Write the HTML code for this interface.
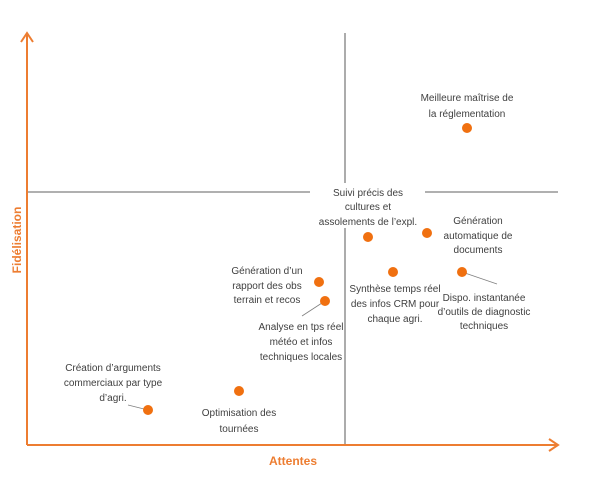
<!DOCTYPE html>
<html><head><meta charset="utf-8"><style>
body{margin:0;background:#fff;}
svg text{font-family:"Liberation Sans",sans-serif;font-size:10px;fill:#404040;text-anchor:middle;}
</style></head><body>
<svg width="608" height="475" viewBox="0 0 608 475">
<line x1="345" y1="33" x2="345" y2="445" stroke="#808080" stroke-width="1.3"/>
<line x1="27" y1="192" x2="310" y2="192" stroke="#808080" stroke-width="1.3"/>
<line x1="425" y1="192" x2="558" y2="192" stroke="#808080" stroke-width="1.3"/>
<rect x="333" y="183" width="24" height="45" fill="#fff"/>
<line x1="27" y1="445" x2="27" y2="35" stroke="#ED7D31" stroke-width="2"/>
<polyline points="21,42 27,33 33,42" fill="none" stroke="#ED7D31" stroke-width="2"/>
<line x1="27" y1="445" x2="556" y2="445" stroke="#ED7D31" stroke-width="2"/>
<polyline points="549,439 558,445 549,451" fill="none" stroke="#ED7D31" stroke-width="2"/>
<g stroke="#808080" stroke-width="0.8">
<line x1="462" y1="272" x2="497" y2="284"/>
<line x1="325" y1="301" x2="302" y2="316"/>
<line x1="148" y1="410" x2="128" y2="405"/>
</g>
<g fill="#F07010">
<circle cx="467" cy="128" r="5"/><circle cx="368" cy="237" r="5"/><circle cx="427" cy="233" r="5"/>
<circle cx="319" cy="282" r="5"/><circle cx="325" cy="301" r="5"/><circle cx="393" cy="272" r="5"/>
<circle cx="462" cy="272" r="5"/><circle cx="239" cy="391" r="5"/><circle cx="148" cy="410" r="5"/>
</g>
<text x="467" y="101">Meilleure maîtrise de</text><text x="467" y="117">la réglementation</text>
<text x="368" y="196">Suivi précis des</text><text x="368" y="210">cultures et</text><text x="368" y="225">assolements de l’expl.</text>
<text x="478" y="224">Génération</text><text x="478" y="239">automatique de</text><text x="478" y="253">documents</text>
<text x="267" y="274">Génération d’un</text><text x="267" y="289">rapport des obs</text><text x="267" y="303">terrain et recos</text>
<text x="395" y="292">Synthèse temps réel</text><text x="395" y="307">des infos CRM pour</text><text x="395" y="322">chaque agri.</text>
<text x="484" y="301">Dispo. instantanée</text><text x="484" y="315">d’outils de diagnostic</text><text x="484" y="329">techniques</text>
<text x="301" y="330">Analyse en tps réel</text><text x="301" y="345">météo et infos</text><text x="301" y="360">techniques locales</text>
<text x="113" y="371">Création d’arguments</text><text x="113" y="386">commerciaux par type</text><text x="113" y="401">d’agri.</text>
<text x="239" y="416">Optimisation des</text><text x="239" y="432">tournées</text>
<text x="293" y="465" style="fill:#ED7D31;font-weight:bold;font-size:12px">Attentes</text>
<text x="0" y="0" transform="translate(21,240) rotate(-90)" style="fill:#ED7D31;font-weight:bold;font-size:12px">Fidélisation</text>
</svg>
</body></html>
